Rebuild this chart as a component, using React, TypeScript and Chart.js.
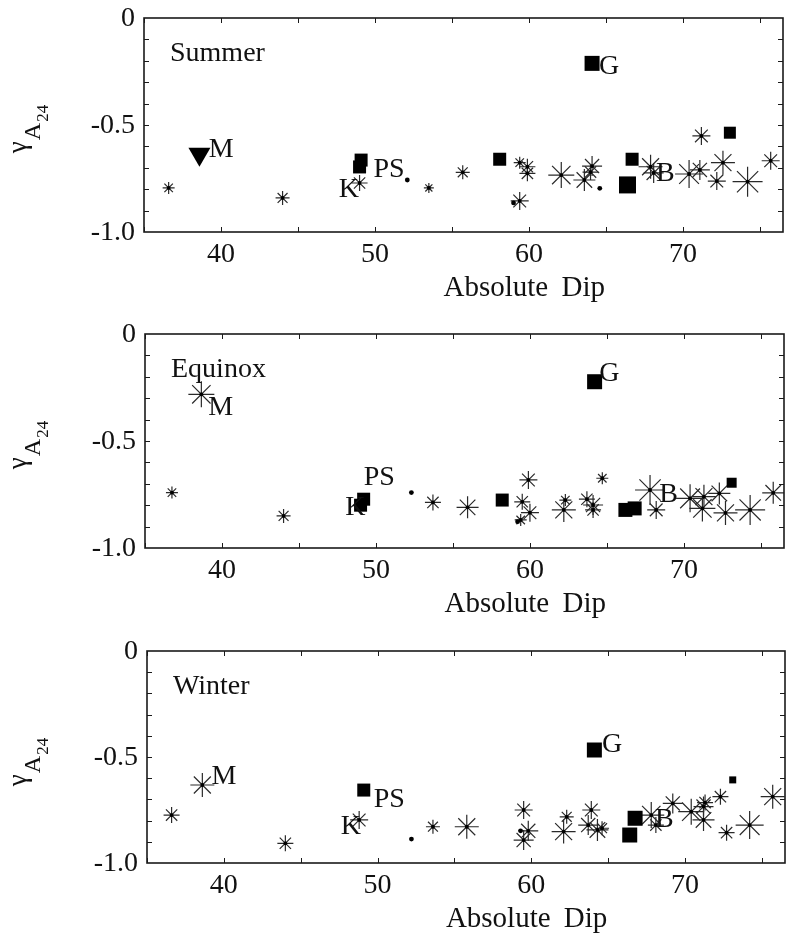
import React, { useEffect, useRef } from 'react';
import { Chart, registerables } from 'chart.js';

Chart.register(...registerables);

const SERIF = "'Liberation Serif', 'Times New Roman', serif";

// Shared axes: absolute magnetic dip (deg) against the gamma coefficient
const dipMin = 35;
const dipMax = 76.5;
const dipTickLabels = [40, 50, 60, 70];
const gammaTickLabels = [0, -0.5, -1.0];
const dipMinorStep = 5;
const gammaMinorStep = 0.1;

// ---------------- Summer ----------------
const summerStarDip = [36.6, 44.0, 49.0, 53.5, 55.7, 59.4, 59.9, 59.9, 59.4, 62.1, 63.6, 64.1, 64.0, 67.9, 68.1, 70.4, 71.1, 71.2, 72.6, 72.2, 74.2, 75.7];
const summerStarGamma = [-0.794, -0.841, -0.771, -0.794, -0.721, -0.676, -0.695, -0.726, -0.855, -0.734, -0.757, -0.692, -0.72, -0.695, -0.724, -0.729, -0.71, -0.551, -0.676, -0.762, -0.765, -0.667];
const summerStarSize = [6, 7, 8, 5, 7, 6, 8, 8, 9, 13, 11, 10, 8, 12, 10, 14, 10, 9, 12, 9, 15, 9];
const summerDotDip = [52.1, 59.0, 64.6];
const summerDotGamma = [-0.757, -0.864, -0.796];
const summerSquareDip = [49.1, 49.0, 58.1, 66.4, 66.7, 73.05, 64.1];
const summerSquareGamma = [-0.664, -0.696, -0.66, -0.78, -0.66, -0.536, -0.212];
const summerSquareSize = [13, 13, 13, 17, 13, 12, 15];
const summerTriangleDip = [38.6];
const summerTriangleGamma = [-0.636];
const summerLabelText = ['M', 'PS', 'K', 'G', 'B'];
const summerLabelDip = [39.2, 49.9, 47.65, 64.55, 68.25];
const summerLabelGamma = [-0.617, -0.71, -0.804, -0.227, -0.726];

// ---------------- Equinox ----------------
const equinoxStarDip = [38.66, 36.75, 44.0, 53.7, 55.95, 59.9, 59.5, 60.0, 59.4, 62.2, 62.3, 63.7, 64.1, 64.1, 64.7, 67.8, 68.2, 70.4, 71.3, 71.2, 72.3, 72.7, 74.3, 75.8];
const equinoxStarGamma = [-0.282, -0.741, -0.85, -0.787, -0.81, -0.682, -0.784, -0.835, -0.869, -0.822, -0.776, -0.772, -0.799, -0.822, -0.674, -0.729, -0.822, -0.768, -0.76, -0.815, -0.745, -0.836, -0.822, -0.742];
const equinoxStarSize = [13, 6, 7, 8, 11, 9, 8, 9, 6, 12, 6, 8, 10, 8, 6, 15, 9, 14, 12, 13, 11, 12, 15, 11];
const equinoxDotDip = [52.3, 59.2];
const equinoxDotGamma = [-0.741, -0.877];
const equinoxSquareDip = [49.2, 49.0, 58.2, 66.2, 66.8, 73.1, 64.2];
const equinoxSquareGamma = [-0.772, -0.8, -0.776, -0.822, -0.815, -0.695, -0.223];
const equinoxSquareSize = [13, 13, 13, 14, 14, 10, 15];
const equinoxTriangleDip: number[] = [];
const equinoxTriangleGamma: number[] = [];
const equinoxLabelText = ['M', 'PS', 'K', 'G', 'B'];
const equinoxLabelDip = [39.1, 49.2, 48.0, 64.5, 68.4];
const equinoxLabelGamma = [-0.346, -0.673, -0.81, -0.187, -0.752];

// ---------------- Winter ----------------
const winterStarDip = [36.6, 38.6, 44.0, 48.8, 53.6, 55.8, 59.5, 59.8, 59.5, 62.1, 62.3, 63.9, 63.7, 64.3, 64.6, 67.8, 68.1, 69.2, 70.4, 71.2, 71.3, 71.2, 72.3, 72.7, 74.2, 75.7];
const winterStarGamma = [-0.774, -0.632, -0.907, -0.797, -0.829, -0.829, -0.75, -0.848, -0.892, -0.852, -0.782, -0.75, -0.821, -0.844, -0.836, -0.774, -0.821, -0.719, -0.758, -0.734, -0.715, -0.797, -0.687, -0.857, -0.821, -0.687];
const winterStarSize = [8, 12, 8, 9, 7, 12, 9, 10, 10, 12, 7, 9, 10, 11, 7, 13, 8, 10, 13, 10, 8, 11, 8, 8, 14, 12];
const winterDotDip = [52.2, 59.3];
const winterDotGamma = [-0.887, -0.848];
const winterSquareDip = [49.1, 66.75, 66.4, 73.1, 64.1];
const winterSquareGamma = [-0.656, -0.789, -0.868, -0.608, -0.467];
const winterSquareSize = [13, 15, 15, 7, 15];
const winterTriangleDip: number[] = [];
const winterTriangleGamma: number[] = [];
const winterLabelText = ['M', 'PS', 'K', 'G', 'B'];
const winterLabelDip = [39.2, 49.75, 47.6, 64.6, 68.05];
const winterLabelGamma = [-0.594, -0.703, -0.83, -0.443, -0.797];

type PanelSpec = {
  season: string;
  canvasTop: number;
  canvasHeight: number;
  plotLeft: number;
  plotRight: number;
  plotTop: number;
  plotBottom: number;
  starDip: number[];
  starGamma: number[];
  starSize: number[];
  dotDip: number[];
  dotGamma: number[];
  squareDip: number[];
  squareGamma: number[];
  squareSize: number[];
  triangleDip: number[];
  triangleGamma: number[];
  labelText: string[];
  labelDip: number[];
  labelGamma: number[];
};

const panels: PanelSpec[] = [
  {
    season: 'Summer', canvasTop: 0, canvasHeight: 316,
    plotLeft: 144, plotRight: 783, plotTop: 18, plotBottom: 232,
    starDip: summerStarDip, starGamma: summerStarGamma, starSize: summerStarSize,
    dotDip: summerDotDip, dotGamma: summerDotGamma,
    squareDip: summerSquareDip, squareGamma: summerSquareGamma, squareSize: summerSquareSize,
    triangleDip: summerTriangleDip, triangleGamma: summerTriangleGamma,
    labelText: summerLabelText, labelDip: summerLabelDip, labelGamma: summerLabelGamma,
  },
  {
    season: 'Equinox', canvasTop: 316, canvasHeight: 316,
    plotLeft: 145, plotRight: 784, plotTop: 18, plotBottom: 232,
    starDip: equinoxStarDip, starGamma: equinoxStarGamma, starSize: equinoxStarSize,
    dotDip: equinoxDotDip, dotGamma: equinoxDotGamma,
    squareDip: equinoxSquareDip, squareGamma: equinoxSquareGamma, squareSize: equinoxSquareSize,
    triangleDip: equinoxTriangleDip, triangleGamma: equinoxTriangleGamma,
    labelText: equinoxLabelText, labelDip: equinoxLabelDip, labelGamma: equinoxLabelGamma,
  },
  {
    season: 'Winter', canvasTop: 632, canvasHeight: 305,
    plotLeft: 147, plotRight: 785, plotTop: 19, plotBottom: 231,
    starDip: winterStarDip, starGamma: winterStarGamma, starSize: winterStarSize,
    dotDip: winterDotDip, dotGamma: winterDotGamma,
    squareDip: winterSquareDip, squareGamma: winterSquareGamma, squareSize: winterSquareSize,
    triangleDip: winterTriangleDip, triangleGamma: winterTriangleGamma,
    labelText: winterLabelText, labelDip: winterLabelDip, labelGamma: winterLabelGamma,
  },
];

const pts = (xs: number[], ys: number[]) => xs.map((x, i) => ({ x, y: ys[i] }));
const gammaFmt = (v: number) => (v === 0 ? '0' : v.toFixed(1));

// Axes drawn in the style of the figure: closed frame with inward ticks on
// all four sides, tick labels, season name, station labels and axis titles
const decorations = {
  id: 'decorations',
  afterDatasetsDraw(chart: any, _args: any, opts: any) {
    const spec: PanelSpec = opts.spec;
    const { ctx, chartArea: a } = chart;
    const xs = chart.scales.x;
    const ys = chart.scales.y;
    ctx.save();
    ctx.fillStyle = '#111';
    ctx.textAlign = 'left';
    ctx.textBaseline = 'middle';
    ctx.font = `28px ${SERIF}`;
    spec.labelText.forEach((t, i) => {
      ctx.fillText(t, xs.getPixelForValue(spec.labelDip[i]), ys.getPixelForValue(spec.labelGamma[i]));
    });
    ctx.fillText(spec.season, a.left + 26, a.top + 36);
    ctx.restore();
  },
  afterDraw(chart: any) {
    const { ctx, chartArea: a } = chart;
    const xs = chart.scales.x;
    const ys = chart.scales.y;
    ctx.save();
    ctx.strokeStyle = '#1a1a1a';
    ctx.lineWidth = 1.6;
    ctx.strokeRect(a.left, a.top, a.right - a.left, a.bottom - a.top);
    ctx.lineWidth = 1;
    ctx.beginPath();
    for (let v = Math.ceil(dipMin / dipMinorStep) * dipMinorStep; v <= dipMax; v += dipMinorStep) {
      const px = Math.round(xs.getPixelForValue(v)) + 0.5;
      ctx.moveTo(px, a.bottom); ctx.lineTo(px, a.bottom - 5);
      ctx.moveTo(px, a.top); ctx.lineTo(px, a.top + 5);
    }
    for (let k = 1; k < 10; k++) {
      const py = Math.round(ys.getPixelForValue(-k * gammaMinorStep)) + 0.5;
      ctx.moveTo(a.left, py); ctx.lineTo(a.left + 5, py);
      ctx.moveTo(a.right, py); ctx.lineTo(a.right - 5, py);
    }
    ctx.stroke();

    // tick labels
    ctx.fillStyle = '#111';
    ctx.font = `28px ${SERIF}`;
    ctx.textAlign = 'center';
    ctx.textBaseline = 'middle';
    dipTickLabels.forEach((v) => ctx.fillText(String(v), xs.getPixelForValue(v), a.bottom + 23));
    ctx.textAlign = 'right';
    gammaTickLabels.forEach((v) => ctx.fillText(gammaFmt(v), a.left - 9, ys.getPixelForValue(v) + 1));

    // x-axis title
    ctx.font = `29px ${SERIF}`;
    ctx.textAlign = 'center';
    try { (ctx as any).wordSpacing = '6px'; } catch (e) { /* not supported */ }
    ctx.fillText('Absolute Dip', a.left + 0.595 * (a.right - a.left), a.bottom + 56);
    try { (ctx as any).wordSpacing = '0px'; } catch (e) { /* not supported */ }

    // y-axis title: gamma with subscript A, itself with subscript 24
    const yc = a.top + 111;
    ctx.translate(26, yc);
    ctx.rotate(-Math.PI / 2);
    ctx.textAlign = 'left';
    ctx.textBaseline = 'alphabetic';
    ctx.font = `27px ${SERIF}`;
    const wG = ctx.measureText('γ').width;
    ctx.font = `24px ${SERIF}`;
    const wA = ctx.measureText('A').width;
    ctx.font = `17px ${SERIF}`;
    const w24 = ctx.measureText('24').width;
    let tx = -(wG + wA + w24 + 2) / 2;
    ctx.font = `27px ${SERIF}`;
    ctx.fillText('γ', tx, 0);
    tx += wG + 1;
    ctx.font = `24px ${SERIF}`;
    ctx.fillText('A', tx, 14);
    tx += wA + 1;
    ctx.font = `17px ${SERIF}`;
    ctx.fillText('24', tx, 22);
    ctx.restore();
  },
};

function buildConfig(spec: PanelSpec): any {
  const stars = pts(spec.starDip, spec.starGamma);
  return {
    type: 'scatter',
    data: {
      datasets: [
        {
          label: 'squares',
          data: pts(spec.squareDip, spec.squareGamma),
          pointStyle: 'rect',
          pointRadius: spec.squareSize.map((s) => s / Math.SQRT2),
          backgroundColor: '#000',
          borderWidth: 0,
        },
        {
          label: 'triangles',
          data: pts(spec.triangleDip, spec.triangleGamma),
          pointStyle: 'triangle',
          pointRotation: 180,
          pointRadius: 12.7,
          backgroundColor: '#000',
          borderWidth: 0,
        },
        {
          label: 'dots',
          data: pts(spec.dotDip, spec.dotGamma),
          pointStyle: 'circle',
          pointRadius: 2.4,
          backgroundColor: '#000',
          borderWidth: 0,
        },
        {
          label: 'centres',
          data: stars,
          pointStyle: 'circle',
          pointRadius: 1.9,
          backgroundColor: '#000',
          borderWidth: 0,
        },
        {
          label: 'asterisks',
          data: stars,
          pointStyle: 'star',
          pointRadius: spec.starSize,
          backgroundColor: 'rgba(0,0,0,0)',
          borderColor: '#2a2a2a',
          borderWidth: 1.2,
        },
      ],
    },
    options: {
      responsive: false,
      animation: false,
      devicePixelRatio: 1,
      events: [],
      layout: {
        autoPadding: false,
        padding: {
          left: spec.plotLeft,
          right: 786 - spec.plotRight,
          top: spec.plotTop,
          bottom: spec.canvasHeight - spec.plotBottom,
        },
      },
      plugins: {
        legend: { display: false },
        tooltip: { enabled: false },
        decorations: { spec },
      },
      scales: {
        x: { type: 'linear', min: dipMin, max: dipMax, display: false },
        y: { type: 'linear', min: -1, max: 0, display: false },
      },
    },
    plugins: [decorations],
  };
}

function Panel({ spec }: { spec: PanelSpec }) {
  const ref = useRef<HTMLCanvasElement>(null);
  useEffect(() => {
    if (!ref.current) return;
    const chart = new Chart(ref.current, buildConfig(spec));
    return () => chart.destroy();
  }, [spec]);
  return (
    <canvas
      ref={ref}
      width={786}
      height={spec.canvasHeight}
      style={{ position: 'absolute', left: 0, top: spec.canvasTop, width: 786, height: spec.canvasHeight }}
    />
  );
}

export default function App() {
  return (
    <div style={{ position: 'absolute', left: 0, top: 0, width: 786, height: 937, background: '#fff', overflow: 'hidden' }}>
      {panels.map((p) => (
        <Panel key={p.season} spec={p} />
      ))}
    </div>
  );
}
